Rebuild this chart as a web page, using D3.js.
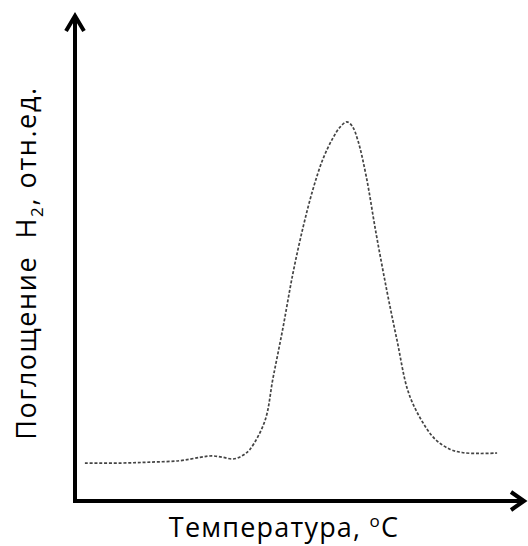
<!DOCTYPE html>
<html>
<head>
<meta charset="utf-8">
<script src="https://cdn.jsdelivr.net/npm/d3@7"></script>
<style>
  body { margin: 0; background: #fff; }
  svg { display: block; }
</style>
</head>
<body>
<div id="chart"></div>
<script>
// температура (усл. ед.) и поглощение H2 (отн. ед.)
const temperature = [2.2, 10, 16.7, 23.3, 27.8, 30.4, 32.9, 35.1, 37.1, 38.9, 42.2, 44, 46.2, 48.4, 50.7, 52.9, 55.1, 57.3, 58.9, 60.4, 61.6, 62.9, 64.7, 66.9, 69.3, 71.6, 74, 76.7, 80, 83.3, 86, 90, 93.8];
const uptake = [7.9, 7.9, 8.1, 8.4, 9.1, 9.4, 9.1, 8.75, 9.4, 10.8, 16.7, 25.6, 36.0, 47.3, 57.1, 65.0, 71.25, 75.6, 77.9, 79.0, 78.1, 75.0, 67.7, 55.8, 43.8, 33.3, 22.9, 17.3, 12.9, 10.8, 10.1, 9.9, 10];
const xTitle = "Температура, ";
const yTitle = "Поглощение  H";

const W = 528, H = 546;
const x0 = 75, yBase = 501;

const svg = d3.select("#chart").append("svg")
  .attr("width", W)
  .attr("height", H);

const x = d3.scaleLinear().domain([0, 100]).range([x0, 525]);
const y = d3.scaleLinear().domain([0, 100]).range([yBase, 21]);

const data = temperature.map((t, i) => ({ t, v: uptake[i] }));

// кривая
const line = d3.line()
  .x(d => x(d.t))
  .y(d => y(d.v))
  .curve(d3.curveCatmullRom.alpha(0.5));

svg.append("path")
  .datum(data)
  .attr("fill", "none")
  .attr("stroke", "#444")
  .attr("stroke-width", 1.7)
  .attr("stroke-dasharray", "3,1.8")
  .attr("d", line);

// оси со стрелками
svg.append("line")
  .attr("x1", x0).attr("y1", yBase + 2)
  .attr("x2", x0).attr("y2", 16)
  .attr("stroke", "#000").attr("stroke-width", 4);

svg.append("line")
  .attr("x1", x0 - 2).attr("y1", yBase)
  .attr("x2", 522).attr("y2", yBase)
  .attr("stroke", "#000").attr("stroke-width", 4);

svg.append("path")
  .attr("d", `M${x0 - 9},${31} L${x0},${16} L${x0 + 9},${31}`)
  .attr("fill", "none")
  .attr("stroke", "#000")
  .attr("stroke-width", 4)
  .attr("stroke-linejoin", "miter");

svg.append("path")
  .attr("d", `M${511},${yBase - 9} L${524},${yBase} L${511},${yBase + 9}`)
  .attr("fill", "none")
  .attr("stroke", "#000")
  .attr("stroke-width", 4)
  .attr("stroke-linejoin", "miter");

// подписи осей
const xt = svg.append("text")
  .attr("x", 284)
  .attr("y", 537)
  .attr("text-anchor", "middle")
  .style("font-family", "'Open Sans', sans-serif")
  .style("font-size", "27px")
  .style("letter-spacing", "1.2px")
  .style("fill", "#000")
  .text(xTitle);
xt.append("tspan")
  .attr("dy", -10)
  .style("font-size", "17px")
  .text("o");
xt.append("tspan")
  .attr("dy", 10)
  .text("C");

const yt = svg.append("text")
  .attr("transform", "translate(36,263) rotate(-90)")
  .attr("text-anchor", "middle")
  .style("font-family", "'Open Sans', sans-serif")
  .style("font-size", "27px")
  .style("letter-spacing", "1.6px")
  .style("white-space", "pre")
  .style("fill", "#000")
  .text(yTitle);
yt.append("tspan")
  .attr("dy", 7)
  .style("font-size", "17px")
  .text("2");
yt.append("tspan")
  .attr("dy", -7)
  .text(", отн.ед.");
</script>
</body>
</html>
